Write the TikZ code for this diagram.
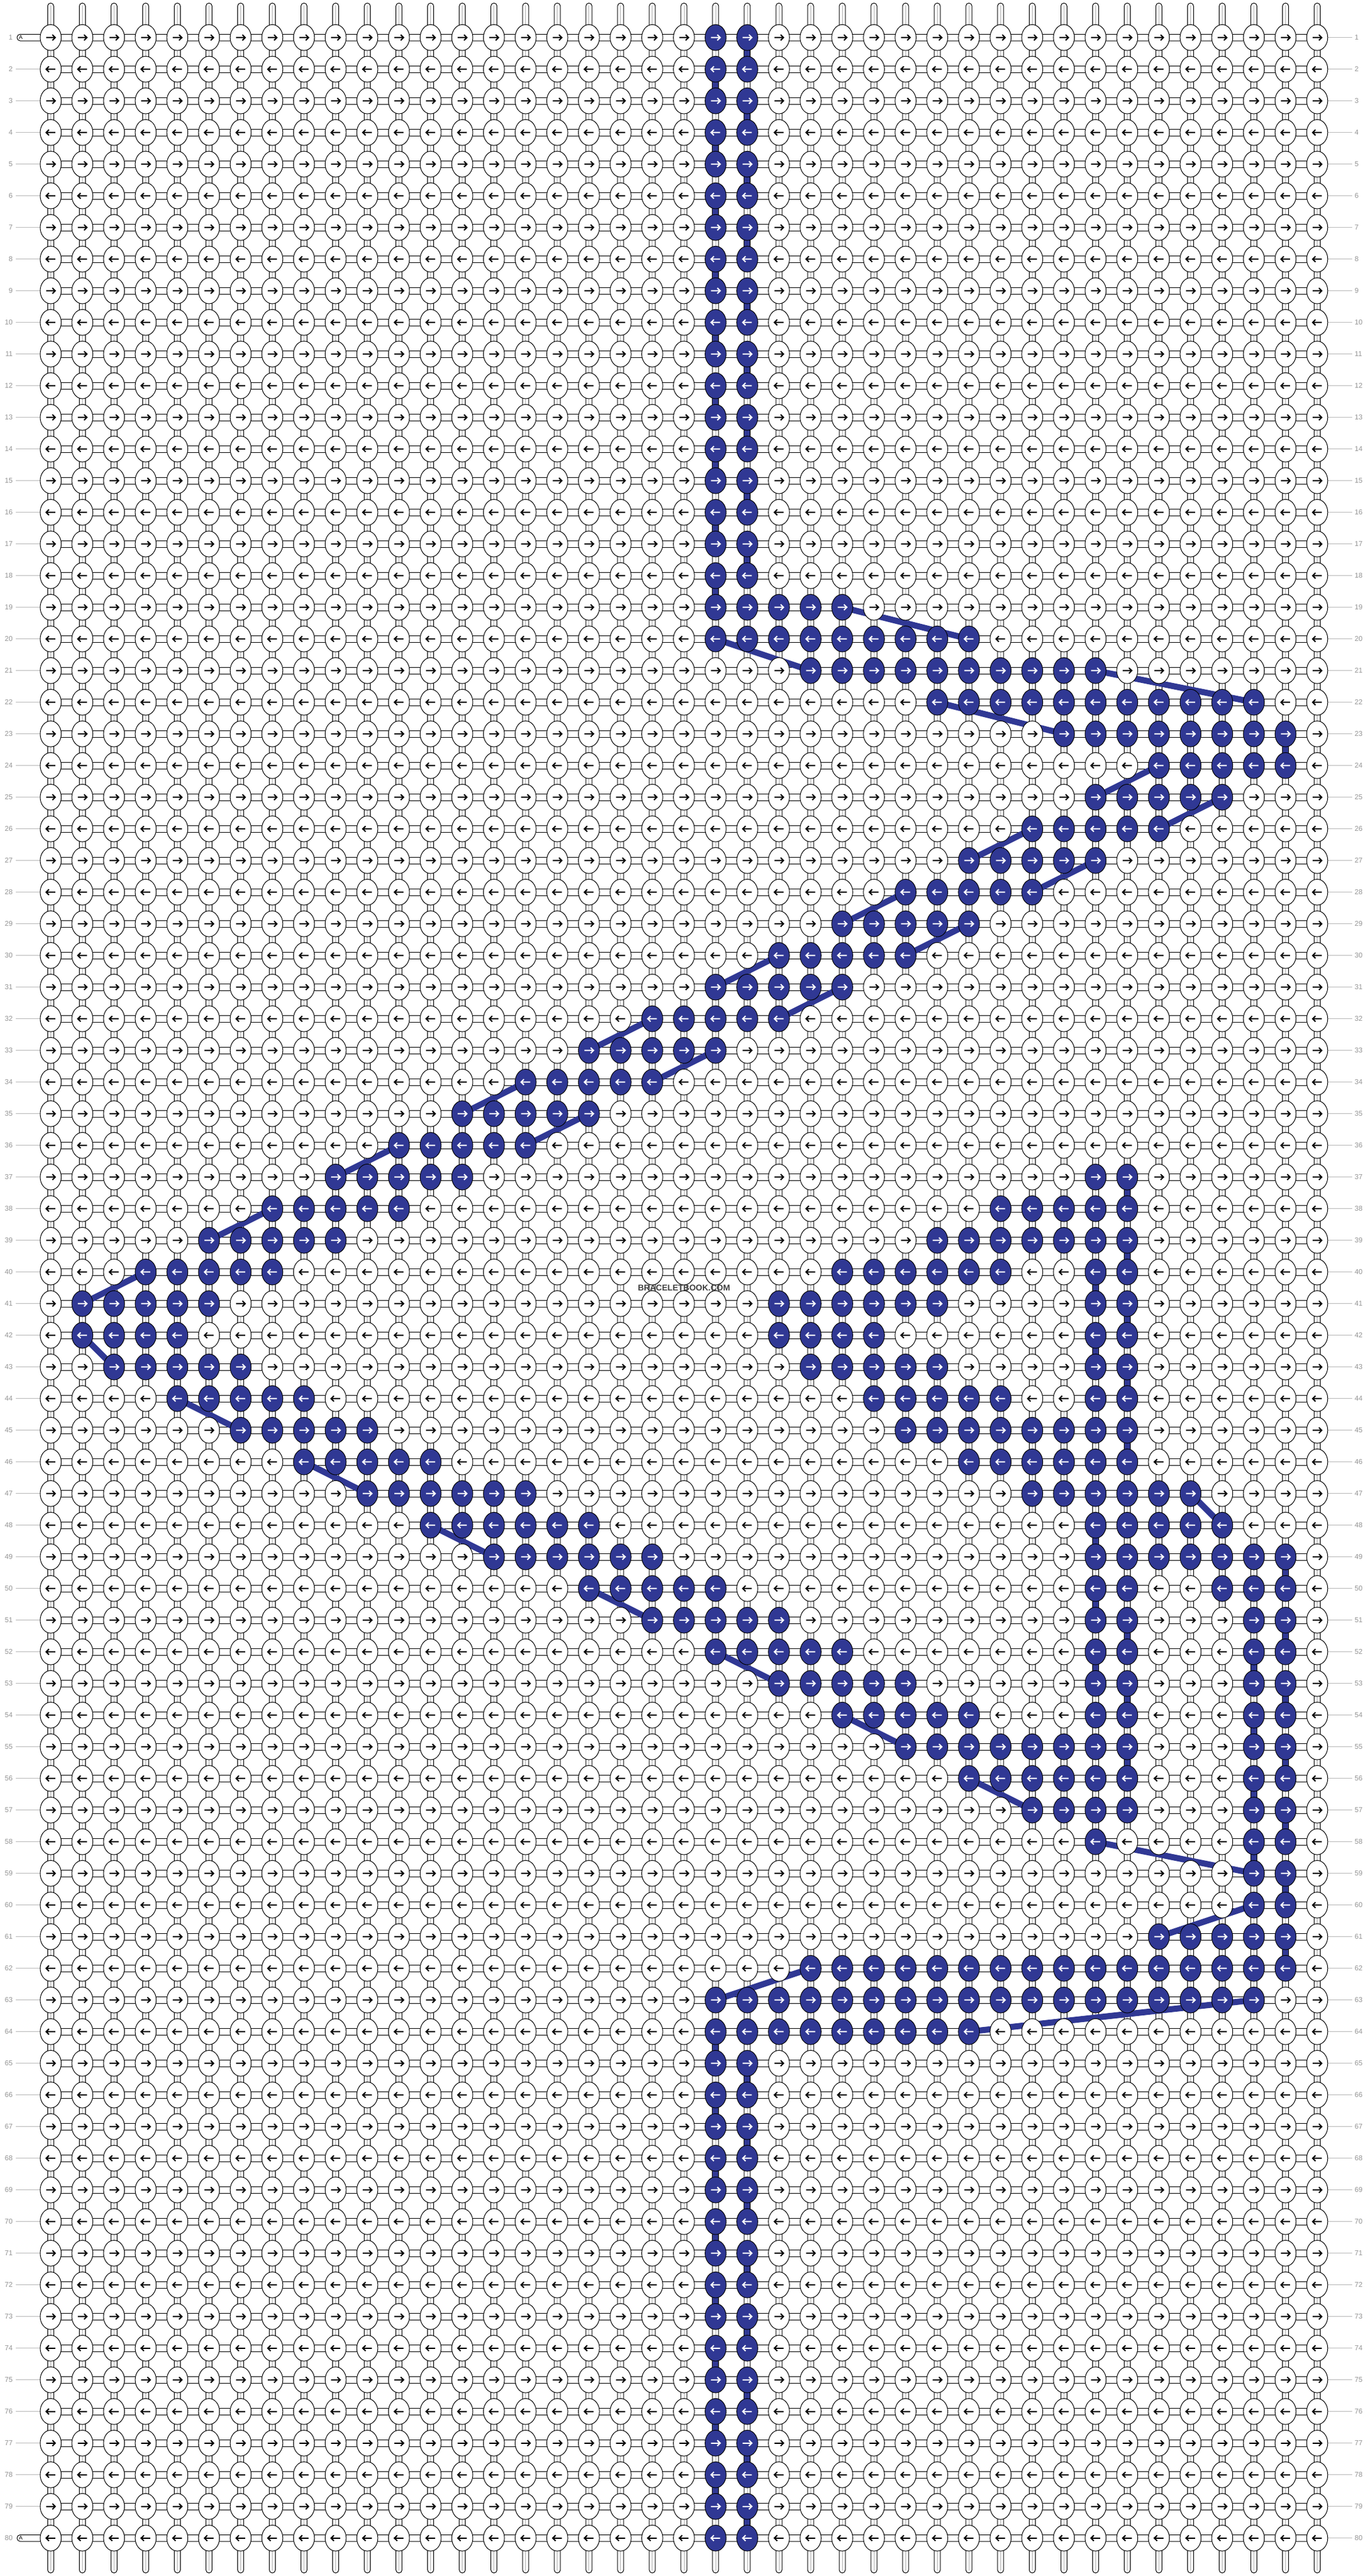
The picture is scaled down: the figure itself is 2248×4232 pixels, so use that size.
\documentclass[tikz,border=0pt]{standalone}
\usepackage{fontspec}
\setmainfont{Liberation Sans}
\definecolor{kblue}{RGB}{48,56,148}
\definecolor{lblgray}{RGB}{150,150,150}
\definecolor{linegray}{RGB}{185,185,185}
\definecolor{strgray}{RGB}{175,175,175}
\definecolor{wmark}{RGB}{64,64,64}
\begin{document}
\begin{tikzpicture}[x=1pt,y=-1pt,
  knotw/.style={draw=black,line width=1pt,fill=white},
  knotb/.style={draw=black,line width=1pt,fill=kblue},
  arrw/.style={draw=black,line width=2pt},
  arrb/.style={draw=white,line width=2pt},
  conn/.style={draw=black,line width=1pt,fill=white},
  connb/.style={draw=black,line width=1pt,fill=kblue},
  inner/.style={draw=strgray,line width=0.8pt},
  band/.style={draw=kblue,line width=10pt},
  lbl/.style={text=lblgray,font=\fontsize{11.6}{12}\selectfont,inner sep=0pt},
  lblline/.style={draw=linegray,line width=1pt}
]
\useasboundingbox (0,0) rectangle (2248,4232);
\fill[white] (0,0) rectangle (2248,4232);
% positions
\foreach \c in {1,...,41}{\pgfmathsetmacro\t{83.3+52.03*(\c-1)}\expandafter\xdef\csname cx@\c\endcsname{\t}}
\foreach \r in {1,...,80}{\pgfmathsetmacro\t{61.7+52*(\r-1)}\expandafter\xdef\csname ry@\r\endcsname{\t}}
% blue runs
\def\setrun#1#2#3{%
  \foreach \c in {#2,...,#3}{\expandafter\gdef\csname bl@#1@\c\endcsname{1}}%
  \expandafter\gdef\csname L@#1@#2\endcsname{1}%
  \expandafter\gdef\csname R@#1@#3\endcsname{1}%
}
\foreach \r in {1,...,18}{\setrun{\r}{22}{23}}
\foreach \r in {65,...,80}{\setrun{\r}{22}{23}}
\foreach \r/\a/\b in {19/22/26, 20/22/30, 21/25/34, 22/29/39, 23/33/40, 24/36/40, 25/34/38, 26/32/36, 27/30/34, 28/28/32, 29/26/30, 30/24/28, 31/22/26, 32/20/24, 33/18/22, 34/16/20, 35/14/18, 36/12/16, 37/10/14, 37/34/35, 38/8/12, 38/31/35, 39/6/10, 39/29/35, 40/4/8, 40/26/31, 40/34/35, 41/2/6, 41/24/29, 41/34/35, 42/2/5, 42/24/27, 42/34/35, 43/3/7, 43/25/29, 43/34/35, 44/5/9, 44/27/31, 44/34/35, 45/7/11, 45/28/35, 46/9/13, 46/30/35, 47/11/16, 47/32/37, 48/13/18, 48/34/38, 49/15/20, 49/34/40, 50/18/22, 50/34/35, 50/38/40, 51/20/24, 51/34/35, 51/39/40, 52/22/26, 52/34/35, 52/39/40, 53/24/28, 53/34/35, 53/39/40, 54/26/30, 54/34/35, 54/39/40, 55/28/35, 55/39/40, 56/30/35, 56/39/40, 57/32/35, 57/39/40, 58/34/34, 58/39/40, 59/39/40, 60/39/40, 61/36/40, 62/25/40, 63/22/39, 64/22/30}{\setrun{\r}{\a}{\b}}
% row labels
\foreach \r in {1,...,80}{
  \edef\yy{\csname ry@\r\endcsname}
  \node[lbl,anchor=east] (ll\r) at (21,\yy) {\r};
  \node[lbl,anchor=west] (lr\r) at (2226,\yy) {\r};
}
\draw[lblline] foreach \r in {1,...,80}{ (2182,\csname ry@\r\endcsname) -- (2222,\csname ry@\r\endcsname) };
\draw[lblline] foreach \r in {2,...,79}{ (26,\csname ry@\r\endcsname) -- (66,\csname ry@\r\endcsname) };
% vertical strings (columns)
\foreach \c in {1,...,41}{
  \edef\xx{\csname cx@\c\endcsname}
  \draw[conn,rounded corners=5pt] (\xx-5,5) rectangle (\xx+5,4227);
  \draw[inner] (\xx,9) -- (\xx,4223);
}
% horizontal string per row
\foreach \r in {2,...,79}{
  \edef\yy{\csname ry@\r\endcsname}
  \draw[conn] (83.3,\yy-5.3) rectangle (2164.5,\yy+5.3);
}
\foreach \r in {1,80}{
  \edef\yy{\csname ry@\r\endcsname}
  \draw[conn,rounded corners=5pt] (2164.5,\yy-5.3) -- (28,\yy-5.3) -- (28,\yy+5.3) -- (2164.5,\yy+5.3) -- cycle;
  \node[font=\fontsize{9}{9}\selectfont,inner sep=0pt,anchor=west] (A\r) at (31,\yy) {A};
}
% blue vertical segments
\foreach \r in {1,...,79}{
  \pgfmathtruncatemacro\rn{\r+1}
  \edef\ya{\csname ry@\r\endcsname}
  \edef\yb{\csname ry@\rn\endcsname}
  \foreach \c in {1,...,41}{
    \def\isblue{0}
    \ifodd\r\relax
      \ifcsname R@\r @\c\endcsname\ifcsname R@\rn @\c\endcsname\def\isblue{1}\fi\fi
    \else
      \ifcsname L@\r @\c\endcsname\ifcsname L@\rn @\c\endcsname\def\isblue{1}\fi\fi
    \fi
    \if1\isblue
      \edef\xx{\csname cx@\c\endcsname}
      \draw[connb] (\xx-5,\ya) rectangle (\xx+5,\yb);
    \fi
  }
}
% diagonal bands
\foreach \ra/\ca/\rb/\cb in {19/26/20/30, 20/22/21/25, 21/34/22/39, 22/29/23/33, 24/36/25/34, 25/38/26/36, 26/32/27/30, 27/34/28/32, 28/28/29/26, 29/30/30/28, 30/24/31/22, 31/26/32/24, 32/20/33/18, 33/22/34/20, 34/16/35/14, 35/18/36/16, 36/12/37/10, 38/8/39/6, 40/4/41/2, 42/2/43/3, 44/5/45/7, 46/9/47/11, 48/13/49/15, 50/18/51/20, 52/22/53/24, 54/26/55/28, 56/30/57/32, 47/37/48/38, 58/34/59/39, 60/39/61/36, 62/25/63/22, 63/39/64/30}{
  \edef\xa{\csname cx@\ca\endcsname}\edef\ya{\csname ry@\ra\endcsname}
  \edef\xb{\csname cx@\cb\endcsname}\edef\yb{\csname ry@\rb\endcsname}
  \draw[band] (\xa,\ya) -- (\xb,\yb);
}
% knots and arrows, merged per row
\foreach \r in {1,...,80}{
  \edef\yy{\csname ry@\r\endcsname}
  \gdef\wl{}\gdef\bl{}
  \foreach \c in {1,...,41}{
    \edef\xx{\csname cx@\c\endcsname}
    \ifcsname bl@\r @\c\endcsname
      \ifx\bl\empty\xdef\bl{\xx}\else\xdef\bl{\bl,\xx}\fi
    \else
      \ifx\wl\empty\xdef\wl{\xx}\else\xdef\wl{\wl,\xx}\fi
    \fi
  }
  \ifx\wl\empty\else
    \draw[knotw] foreach \xx in \wl {(\xx,\yy) ellipse [x radius=17.3pt, y radius=21.3pt]};
    \ifodd\r\relax
      \draw[arrw] foreach \xx in \wl {(\xx-7.5,\yy) -- (\xx+7,\yy) (\xx+2.8,\yy-4.6) -- (\xx+7.5,\yy) -- (\xx+2.8,\yy+4.6)};
    \else
      \draw[arrw] foreach \xx in \wl {(\xx+7.5,\yy) -- (\xx-7,\yy) (\xx-2.8,\yy-4.6) -- (\xx-7.5,\yy) -- (\xx-2.8,\yy+4.6)};
    \fi
  \fi
  \ifx\bl\empty\else
    \draw[knotb] foreach \xx in \bl {(\xx,\yy) ellipse [x radius=17.3pt, y radius=21.3pt]};
    \ifodd\r\relax
      \draw[arrb] foreach \xx in \bl {(\xx-7.5,\yy) -- (\xx+7,\yy) (\xx+2.8,\yy-4.6) -- (\xx+7.5,\yy) -- (\xx+2.8,\yy+4.6)};
    \else
      \draw[arrb] foreach \xx in \bl {(\xx+7.5,\yy) -- (\xx-7,\yy) (\xx-2.8,\yy-4.6) -- (\xx-7.5,\yy) -- (\xx-2.8,\yy+4.6)};
    \fi
  \fi
}
\node[text=wmark,font=\bfseries\fontsize{13.7}{14}\selectfont,inner sep=0pt] (wm) at (1124,2116) {BRACELETBOOK.COM};
\end{tikzpicture}
\end{document}
